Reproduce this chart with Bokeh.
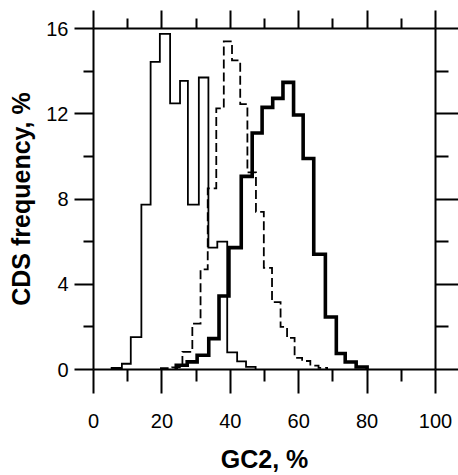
from bokeh.plotting import figure
from bokeh.models import Range1d, LinearAxis, FixedTicker, CustomJSTickFormatter
from bokeh.embed import file_html
from bokeh.resources import INLINE

# ---- data ----
# thin solid histogram
thin_edges = [5.3, 8.3, 10.9, 14.0, 16.7, 19.4, 22.4, 25.3, 27.6, 30.8, 33.6, 36.2, 39.1, 42.0, 44.6, 47.4]
thin_vals = [0.07, 0.27, 1.52, 7.74, 14.43, 15.75, 12.49, 13.54, 7.74, 13.7, 5.72, 6.0, 0.8, 0.38, 0.12]

# dashed histogram
dash_edges = [19.7, 23.0, 26.0, 28.9, 31.3, 33.4, 35.9, 38.1, 40.5, 42.9, 45.0, 47.5, 49.8, 52.2,
              54.7, 56.6, 58.8, 61.0, 63.4, 65.8, 68.3]
dash_vals = [0.06, 0.1, 0.83, 2.15, 4.7, 8.5, 12.25, 15.4, 14.5, 12.45, 9.25, 7.4, 4.77, 3.16,
             2.0, 1.48, 0.55, 0.4, 0.18, 0.08]

# thick histogram
thick_edges = [24.2, 27.4, 30.3, 33.7, 36.7, 39.6, 43.2, 46.4, 49.3, 52.4, 55.4, 58.5, 61.3,
               64.4, 67.8, 71.0, 73.6, 76.8, 80.0]
thick_vals = [0.2, 0.36, 0.67, 1.45, 3.45, 5.72, 9.06, 11.1, 12.3, 12.72, 13.47, 11.94, 9.9,
              5.41, 2.46, 0.75, 0.35, 0.12]

x_major = [0, 20, 40, 60, 80, 100]
x_minor = [10, 30, 50, 70, 90]
y_major = [0, 4, 8, 12, 16]
y_minor = [2, 6, 10, 14]

FONT = "Liberation Sans"


def step_xy(edges, vals):
    xs = [edges[0]] + list(edges)
    ys = [0] + list(vals) + [0]
    return xs, ys


p = figure(width=458, height=475, x_range=Range1d(0, 100), y_range=Range1d(0, 16),
           output_backend="svg", toolbar_location=None,
           x_axis_location=None, y_axis_location=None,
           min_border_left=93, min_border_right=23, min_border_top=28, min_border_bottom=104)
p.outline_line_color = None
p.xgrid.visible = False
p.ygrid.visible = False
p.background_fill_color = "white"
p.border_fill_color = "white"

xs, ys = step_xy(thin_edges, thin_vals)
p.step(xs, ys, mode="after", line_color="black", line_width=1.8, line_join="miter")
xs, ys = step_xy(dash_edges, dash_vals)
p.step(xs, ys, mode="after", line_color="black", line_width=1.8, line_dash="9 4", line_join="miter")
xs, ys = step_xy(thick_edges, thick_vals)
p.step(xs, ys, mode="after", line_color="black", line_width=3.6, line_join="miter")


def style(ax, tick_out, minor_out, labels=True):
    ax.axis_line_width = 2
    ax.axis_line_color = "black"
    ax.major_tick_line_width = 2
    ax.minor_tick_line_width = 2
    ax.major_tick_line_color = "black"
    ax.minor_tick_line_color = "black"
    ax.major_tick_in = 0
    ax.minor_tick_in = 0
    ax.major_tick_out = tick_out
    ax.minor_tick_out = minor_out
    if labels:
        ax.major_label_text_font = FONT
        ax.major_label_text_font_size = "20px"
        ax.major_label_text_color = "black"
        ax.axis_label_text_font = FONT
        ax.axis_label_text_font_size = "25px"
        ax.axis_label_text_font_style = "bold"
        ax.axis_label_text_color = "black"
    else:
        ax.formatter = CustomJSTickFormatter(code="return ''")
        ax.major_label_text_font_size = "10px"
        ax.major_label_standoff = 0


xb = LinearAxis(ticker=FixedTicker(ticks=x_major, minor_ticks=x_minor), axis_label="GC2, %")
style(xb, 24, 12)
xb.major_label_standoff = 20
xb.axis_label_standoff = 14
p.add_layout(xb, "below")

xt = LinearAxis(ticker=FixedTicker(ticks=x_major, minor_ticks=x_minor))
style(xt, 18, 10, labels=False)
p.add_layout(xt, "above")

yl = LinearAxis(ticker=FixedTicker(ticks=y_major, minor_ticks=y_minor), axis_label="CDS frequency, %")
style(yl, 19, 10)
yl.major_label_standoff = 6
yl.axis_label_standoff = 8
p.add_layout(yl, "left")

yr = LinearAxis(ticker=FixedTicker(ticks=y_major, minor_ticks=y_minor))
style(yr, 23, 13, labels=False)
p.add_layout(yr, "right")

open("out.html", "w").write(file_html(p, INLINE))
